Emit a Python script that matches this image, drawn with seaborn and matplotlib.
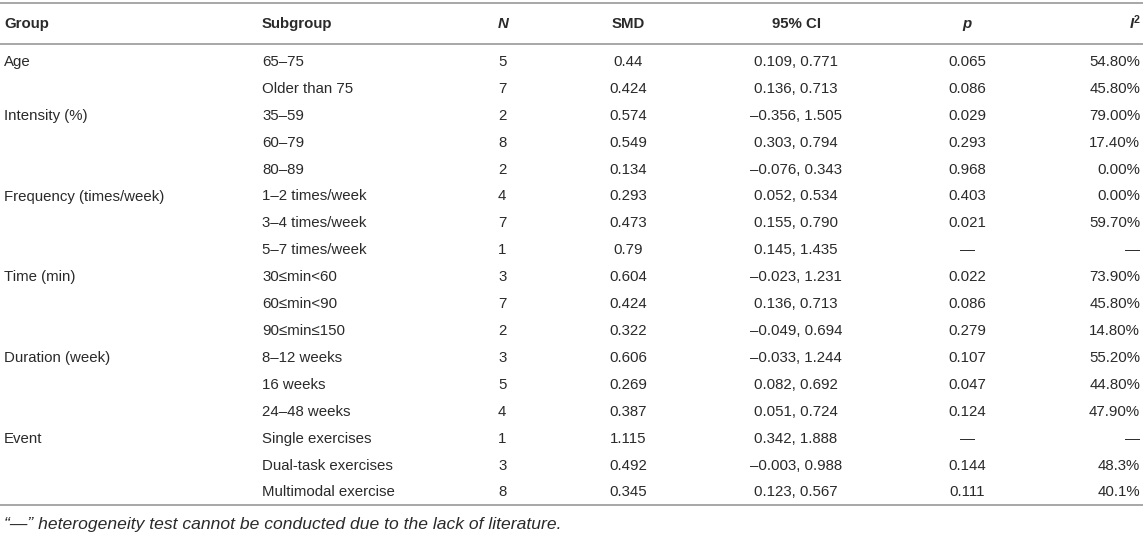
import matplotlib
matplotlib.use("Agg")
import matplotlib.pyplot as plt
import seaborn as sns

# ---- data ----
columns = ["Group", "Subgroup", "N", "SMD", "95% CI", "p", "I2"]
groups = ["Age", "", "Intensity (%)", "", "", "Frequency (times/week)", "", "",
          "Time (min)", "", "", "Duration (week)", "", "", "Event", "", ""]
subgroups = ["65–75", "Older than 75", "35–59", "60–79", "80–89",
             "1–2 times/week", "3–4 times/week", "5–7 times/week",
             "30≤min<60", "60≤min<90", "90≤min≤150",
             "8–12 weeks", "16 weeks", "24–48 weeks",
             "Single exercises", "Dual-task exercises", "Multimodal exercise"]
n_values = [5, 7, 2, 8, 2, 4, 7, 1, 3, 7, 2, 3, 5, 4, 1, 3, 8]
smd = ["0.44", "0.424", "0.574", "0.549", "0.134", "0.293", "0.473", "0.79",
       "0.604", "0.424", "0.322", "0.606", "0.269", "0.387", "1.115", "0.492", "0.345"]
ci_low = ["0.109", "0.136", "–0.356", "0.303", "–0.076", "0.052", "0.155", "0.145",
          "–0.023", "0.136", "–0.049", "–0.033", "0.082", "0.051", "0.342", "–0.003", "0.123"]
ci_high = ["0.771", "0.713", "1.505", "0.794", "0.343", "0.534", "0.790", "1.435",
           "1.231", "0.713", "0.694", "1.244", "0.692", "0.724", "1.888", "0.988", "0.567"]
p_values = ["0.065", "0.086", "0.029", "0.293", "0.968", "0.403", "0.021", "—",
            "0.022", "0.086", "0.279", "0.107", "0.047", "0.124", "—", "0.144", "0.111"]
i2 = ["54.80%", "45.80%", "79.00%", "17.40%", "0.00%", "0.00%", "59.70%", "—",
      "73.90%", "45.80%", "14.80%", "55.20%", "44.80%", "47.90%", "—", "48.3%", "40.1%"]
footnote = "“—” heterogeneity test cannot be conducted due to the lack of literature."

# ---- style ----
sns.set_theme(style="white")
plt.rcParams['font.family'] = ['Liberation Sans', 'DejaVu Sans']

W, H = 1143, 537
fig = plt.figure(figsize=(W / 100, H / 100), dpi=100)
ax = fig.add_axes([0, 0, 1, 1])
ax.set_xlim(0, W)
ax.set_ylim(H, 0)
ax.axis("off")

txt_color = "#2a2a2a"
line_color = "#a0a0a0"
fs = 10.8

x_group, x_sub, x_n, x_smd, x_ci, x_p, x_i2 = 4, 262, 498, 628, 796, 967, 1140
y_header = 24
y0, dy = 62, 26.9

# rules
for yl in (3, 44, 505):
    ax.plot([0, W], [yl, yl], color=line_color, lw=1.3, solid_capstyle="butt")

# header
hkw = dict(fontsize=fs, color=txt_color, fontweight="bold", va="center")
ax.text(x_group, y_header, columns[0], ha="left", **hkw)
ax.text(x_sub, y_header, columns[1], ha="left", **hkw)
ax.text(x_n, y_header, columns[2], ha="left", style="italic", **hkw)
ax.text(x_smd, y_header, columns[3], ha="center", **hkw)
ax.text(x_ci, y_header, columns[4], ha="center", **hkw)
ax.text(x_p, y_header, columns[5], ha="center", style="italic", **hkw)
ax.text(x_i2, y_header - 4, "2", ha="right", fontsize=fs * 0.72, color=txt_color,
        fontweight="bold", va="center")
ax.text(x_i2 - 6, y_header, "I", ha="right", style="italic", **hkw)

# body
bkw = dict(fontsize=fs, color=txt_color, va="center")
for i in range(len(subgroups)):
    y = y0 + i * dy
    ax.text(x_group, y, groups[i], ha="left", **bkw)
    ax.text(x_sub, y, subgroups[i], ha="left", **bkw)
    ax.text(x_n, y, str(n_values[i]), ha="left", **bkw)
    ax.text(x_smd, y, smd[i], ha="center", **bkw)
    ax.text(x_ci, y, f"{ci_low[i]}, {ci_high[i]}", ha="center", **bkw)
    ax.text(x_p, y, p_values[i], ha="center", **bkw)
    ax.text(x_i2, y, i2[i], ha="right", **bkw)

ax.text(x_group, 525, footnote, ha="left", va="center", style="italic",
        fontsize=12.6, color=txt_color)

fig.savefig("out.png", dpi=100)
